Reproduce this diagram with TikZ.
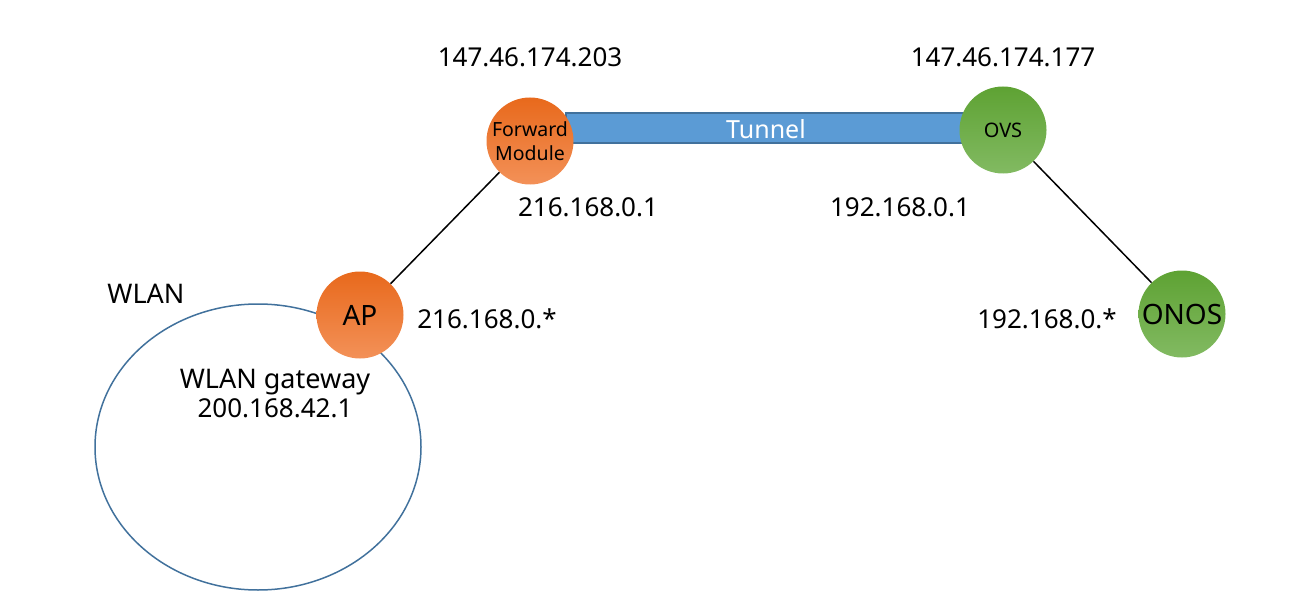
\documentclass[tikz,border=0pt]{standalone}
\usepackage{fontspec}
\setmainfont{Noto Sans}
\usetikzlibrary{shapes.geometric}
\definecolor{orT}{HTML}{E8691C}
\definecolor{orB}{HTML}{F39158}
\definecolor{grT}{HTML}{5EA233}
\definecolor{grB}{HTML}{82BA62}
\definecolor{tunF}{HTML}{5B9BD5}
\definecolor{tunD}{HTML}{41719C}
\definecolor{ellC}{HTML}{41719C}
\begin{document}
\begin{tikzpicture}[x=1pt,y=-1pt,
  orangenode/.style={circle,minimum size=87pt,inner sep=0pt,top color=orT,bottom color=orB,draw=none},
  greennode/.style={circle,minimum size=87pt,inner sep=0pt,top color=grT,bottom color=grB,draw=none},
  lbl/.style={font=\fontsize{26}{30}\selectfont,inner sep=0pt},
  wlbl/.style={font=\fontsize{27}{32}\selectfont,inner sep=0pt},
  link/.style={draw=black,line width=1.5pt}]
\useasboundingbox (0,0) rectangle (1309,615);
% WLAN ellipse
\node[draw=ellC,line width=1.5pt,ellipse,minimum width=326pt,minimum height=286pt,inner sep=0pt] (wlan) at (258,447) {};
% tunnel
\node[draw=tunD,fill=tunF,line width=1.5pt,minimum width=400pt,minimum height=30pt,inner sep=0pt] (tunnel) at (766,128) {};
\node[text=white,font=\fontsize{25}{28}\selectfont] (tunlbl) at (766,129) {Tunnel};
% nodes
\node[orangenode,font=\fontsize{19.5}{24}\selectfont,align=center] (fm) at (530,141) {Forward\\Module};
\node[greennode,font=\fontsize{20}{24}\selectfont] (ovs) at (1003,130) {OVS};
\node[orangenode,font=\fontsize{28}{32}\selectfont] (ap) at (360,315) {AP};
\node[greennode,font=\fontsize{28}{32}\selectfont] (onos) at (1182,314) {ONOS};
% links
\draw[link] (fm) -- (ap);
\draw[link] (ovs) -- (onos);
% labels
\node[lbl] (l1) at (530,57) {147.46.174.203};
\node[lbl] (l2) at (1003,57) {147.46.174.177};
\node[lbl] (l3) at (588,207) {216.168.0.1};
\node[lbl] (l4) at (900,207) {192.168.0.1};
\node[lbl] (l5) at (487,319) {216.168.0.*};
\node[lbl] (l6) at (1047,319) {192.168.0.*};
\node[wlbl] (l7) at (146,294) {WLAN};
\node[wlbl,align=center] (l8) at (275,393) {WLAN gateway\\[-3pt]\fontsize{26}{30}\selectfont 200.168.42.1};
\end{tikzpicture}
\end{document}
